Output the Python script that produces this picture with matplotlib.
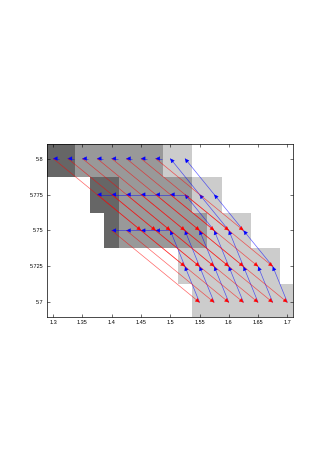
import numpy as np
import matplotlib
matplotlib.use('Agg')
import matplotlib.pyplot as plt
from matplotlib.colors import ListedColormap

# grid of states
x_vals = [1.3, 1.325, 1.35, 1.375, 1.4, 1.425, 1.45, 1.475, 1.5, 1.525,
          1.55, 1.575, 1.6, 1.625, 1.65, 1.675, 1.7]
y_vals = [5.7, 5.725, 5.75, 5.775, 5.8]

# shade level of each cell (0 white, 1 light, 2 medium, 3 dark), rows bottom -> top
level_570 = [0, 0, 0, 0, 0, 0, 0, 0, 0, 0, 1, 1, 1, 1, 1, 1, 1]
level_5725 = [0, 0, 0, 0, 0, 0, 0, 0, 0, 1, 1, 1, 1, 1, 1, 1, 0]
level_575 = [0, 0, 0, 0, 3, 2, 2, 2, 2, 2, 2, 1, 1, 1, 0, 0, 0]
level_5775 = [0, 0, 0, 3, 3, 2, 2, 2, 2, 2, 1, 1, 0, 0, 0, 0, 0]
level_580 = [3, 3, 2, 2, 2, 2, 2, 2, 1, 1, 0, 0, 0, 0, 0, 0, 0]

# red transitions: tail -> head
red_x0 = [1.3, 1.325, 1.35, 1.375, 1.4, 1.425, 1.45, 1.475,
          1.375, 1.4, 1.425, 1.45, 1.475, 1.5, 1.525,
          1.4, 1.425, 1.45, 1.475, 1.5, 1.525, 1.55]
red_y0 = [5.8] * 8 + [5.775] * 7 + [5.75] * 7
red_x1 = [1.45, 1.475, 1.5, 1.525, 1.55, 1.575, 1.6, 1.625,
          1.525, 1.55, 1.575, 1.6, 1.625, 1.65, 1.675,
          1.55, 1.575, 1.6, 1.625, 1.65, 1.675, 1.7]
red_y1 = [5.75] * 8 + [5.725] * 7 + [5.7] * 7

# blue transitions: tail -> head
blue_x0 = [1.31, 1.335, 1.36, 1.385, 1.41, 1.435, 1.46, 1.485,
           1.55, 1.575,
           1.4, 1.425, 1.45, 1.475, 1.5, 1.525,
           1.575, 1.6, 1.625,
           1.425, 1.45, 1.475, 1.5,
           1.525, 1.55, 1.575, 1.6, 1.625, 1.675,
           1.55, 1.575, 1.6, 1.625, 1.65, 1.675, 1.7]
blue_y0 = ([5.8] * 8 + [5.775] * 2 + [5.775] * 6 + [5.75] * 3 + [5.75] * 4
           + [5.725] * 6 + [5.7] * 7)
blue_x1 = [1.3, 1.325, 1.35, 1.375, 1.4, 1.425, 1.45, 1.475,
           1.5, 1.525,
           1.375, 1.4, 1.425, 1.45, 1.475, 1.5,
           1.525, 1.55, 1.575,
           1.4, 1.425, 1.45, 1.475,
           1.5, 1.525, 1.55, 1.575, 1.6, 1.625,
           1.525, 1.55, 1.575, 1.6, 1.625, 1.65, 1.675]
blue_y1 = ([5.8] * 8 + [5.8] * 2 + [5.775] * 6 + [5.775] * 3 + [5.75] * 4
           + [5.75] * 6 + [5.725] * 7)

x_ticks = [1.3, 1.35, 1.4, 1.45, 1.5, 1.55, 1.6, 1.65, 1.7]
x_labels = ['1.3', '1.35', '1.4', '1.45', '1.5', '1.55', '1.6', '1.65', '1.7']
y_ticks = [5.7, 5.725, 5.75, 5.775, 5.8]
y_labels = ['5.7', '5.725', '5.75', '5.775', '5.8']

plt.rcParams['font.family'] = ['Liberation Sans', 'DejaVu Sans']

fig = plt.figure(figsize=(3.31, 4.68), dpi=100)
ax = fig.add_axes([0.143, 0.323, 0.743, 0.369])

levels = np.array([level_570, level_5725, level_575, level_5775, level_580])
xs = np.array(x_vals)
ys = np.array(y_vals)
x_edges = np.concatenate([xs - 0.0125, [xs[-1] + 0.0125]])
y_edges = np.concatenate([ys - 0.0125, [ys[-1] + 0.0125]])
cmap = ListedColormap(['#ffffff', '#cccccc', '#999999', '#666666'])
ax.pcolormesh(x_edges, y_edges, levels, cmap=cmap, vmin=-0.5, vmax=3.5,
              shading='flat', zorder=0)


def draw_arrows(x0, y0, x1, y1, color, z):
    for a, b, c, d in zip(x0, y0, x1, y1):
        # faint shaft, solid head
        ax.plot([a, c], [b, d], color=color, lw=0.5, alpha=0.6, zorder=z,
                solid_capstyle='butt')
        ax.annotate('', xy=(c, d), xytext=(c - 0.02 * (c - a), d - 0.02 * (d - b)),
                    arrowprops=dict(arrowstyle='-|>', color=color, lw=0.3,
                                    mutation_scale=6.5, shrinkA=0, shrinkB=0),
                    zorder=z + 1)


draw_arrows(blue_x0, blue_y0, blue_x1, blue_y1, '#0000ff', 3)
draw_arrows(red_x0, red_y0, red_x1, red_y1, '#ff0000', 5)

ax.set_xlim(1.29, 1.71)
ax.set_ylim(5.69, 5.81)
ax.set_xticks(x_ticks)
ax.set_xticklabels(x_labels)
ax.set_yticks(y_ticks)
ax.set_yticklabels(y_labels)
ax.tick_params(direction='in', length=2.5, width=0.4, labelsize=4,
               top=True, right=True, pad=2.5)
for s in ax.spines.values():
    s.set_linewidth(0.5)

fig.savefig('out.png', dpi=100)
